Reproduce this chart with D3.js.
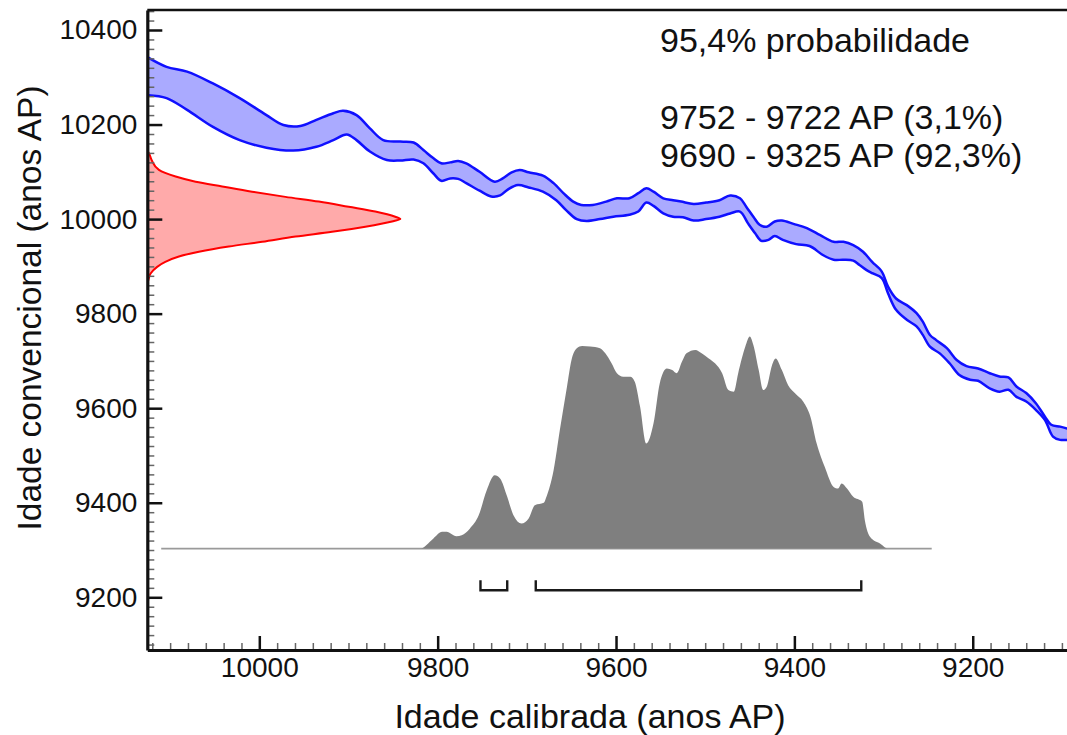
<!DOCTYPE html>
<html>
<head>
<meta charset="utf-8">
<script src="https://cdn.jsdelivr.net/npm/d3@7"></script>
<style>
  html, body { margin: 0; padding: 0; background: #fff; }
  svg { display: block; font-family: 'Liberation Sans', Arial, sans-serif; }
</style>
</head>
<body>
<svg id="chart" width="1067" height="735"></svg>
<script>
// calibration curve, [cal age BP, radiocarbon age BP]
var calCurveUpper = [
  [10125, 10342], [10104, 10322], [10081, 10312], [10052, 10287], [10022, 10256],
  [9992, 10220], [9973, 10199], [9954, 10197], [9936, 10210], [9917, 10224],
  [9906, 10229], [9891, 10220], [9876, 10192], [9861, 10167], [9842, 10164],
  [9827, 10162], [9816, 10146], [9805, 10129], [9796, 10118], [9786, 10120],
  [9777, 10123], [9768, 10118], [9753, 10100], [9736, 10079], [9727, 10086],
  [9717, 10099], [9708, 10104], [9698, 10099], [9682, 10092], [9670, 10076],
  [9659, 10055], [9648, 10037], [9639, 10030], [9626, 10030], [9611, 10037],
  [9599, 10044], [9585, 10044], [9575, 10055], [9566, 10065], [9558, 10058],
  [9547, 10044], [9536, 10040], [9527, 10037], [9513, 10032], [9499, 10035],
  [9484, 10040], [9472, 10050], [9461, 10044], [9454, 10026], [9446, 10005],
  [9439, 9988], [9431, 9984], [9422, 9995], [9414, 9997], [9401, 9990],
  [9386, 9981], [9371, 9966], [9356, 9952], [9345, 9952], [9334, 9945],
  [9323, 9931], [9315, 9914], [9312, 9908], [9302, 9889], [9295, 9857],
  [9286, 9832], [9274, 9818], [9263, 9801], [9256, 9783], [9248, 9755],
  [9241, 9744], [9229, 9727], [9218, 9702], [9207, 9689], [9194, 9684],
  [9181, 9674], [9170, 9667], [9160, 9665], [9151, 9646], [9140, 9632],
  [9129, 9610], [9119, 9582], [9112, 9565], [9102, 9561], [9094, 9557]
]
var calCurveLower = [
  [10125, 10262], [10104, 10256], [10081, 10231], [10052, 10195], [10022, 10167],
  [9992, 10151], [9962, 10145], [9936, 10153], [9917, 10167], [9902, 10179],
  [9891, 10167], [9876, 10143], [9857, 10125], [9842, 10124], [9827, 10126],
  [9816, 10118], [9805, 10097], [9796, 10081], [9786, 10086], [9777, 10085],
  [9768, 10076], [9753, 10060], [9740, 10048], [9730, 10050], [9721, 10063],
  [9710, 10072], [9698, 10067], [9682, 10058], [9667, 10040], [9656, 10019],
  [9644, 10000], [9633, 9996], [9618, 10000], [9603, 10005], [9585, 10009],
  [9575, 10016], [9566, 10035], [9558, 10028], [9547, 10012], [9536, 10005],
  [9525, 10004], [9513, 9997], [9499, 10000], [9484, 10005], [9472, 10012],
  [9461, 10016], [9452, 9991], [9444, 9970], [9437, 9954], [9429, 9956],
  [9422, 9964], [9413, 9956], [9398, 9947], [9383, 9943], [9368, 9924],
  [9356, 9914], [9345, 9914], [9334, 9912], [9327, 9903], [9319, 9892],
  [9312, 9885], [9302, 9875], [9295, 9843], [9286, 9808], [9274, 9787],
  [9263, 9773], [9256, 9755], [9248, 9730], [9237, 9716], [9226, 9695],
  [9215, 9670], [9203, 9660], [9194, 9658], [9181, 9642], [9170, 9635],
  [9160, 9639], [9151, 9624], [9140, 9614], [9129, 9596], [9119, 9575],
  [9110, 9540], [9102, 9533], [9094, 9533]
]

// radiocarbon date (conventional age) distribution, relative
var convAges = [10145, 10139, 10125, 10104, 10090, 10079, 10069, 10058, 10047, 10037,
  10026, 10016, 10005, 10000, 9995, 9984, 9973, 9963, 9952, 9942, 9931, 9921, 9910,
  9899, 9885, 9871, 9865]
var convProb = [0, 0.007, 0.017, 0.046, 0.112, 0.191, 0.296, 0.414, 0.546, 0.678,
  0.796, 0.901, 0.98, 1, 0.967, 0.862, 0.73, 0.586, 0.454, 0.322, 0.204, 0.125, 0.073,
  0.039, 0.013, 0.004, 0]

// calibrated distribution, relative
var calAges = [10110, 9842, 9820, 9805, 9795, 9790, 9779, 9773, 9764, 9754, 9745, 9736,
  9730, 9722, 9715, 9706, 9698, 9691, 9681, 9678, 9670, 9663, 9655, 9650, 9644, 9638,
  9629, 9618, 9612, 9605, 9599, 9592, 9584, 9579, 9573, 9566, 9558, 9551, 9543, 9537,
  9532, 9526, 9521, 9511, 9504, 9496, 9489, 9481, 9474, 9468, 9463, 9455, 9450, 9446,
  9440, 9435, 9431, 9425, 9421, 9414, 9407, 9399, 9390, 9382, 9375, 9366, 9356, 9351,
  9347, 9341, 9334, 9324, 9321, 9315, 9304, 9295, 9246]
var calProb = [0, 0, 0, 0.047, 0.079, 0.079, 0.058, 0.063, 0.094, 0.157, 0.275, 0.346,
  0.331, 0.244, 0.157, 0.118, 0.142, 0.205, 0.216, 0.244, 0.37, 0.559, 0.764, 0.889,
  0.945, 0.956, 0.953, 0.945, 0.921, 0.874, 0.827, 0.811, 0.811, 0.787, 0.669, 0.496,
  0.59, 0.779, 0.85, 0.842, 0.827, 0.882, 0.921, 0.937, 0.921, 0.897, 0.874, 0.827,
  0.748, 0.74, 0.827, 0.953, 1, 0.96, 0.842, 0.748, 0.764, 0.866, 0.897, 0.842, 0.771,
  0.732, 0.693, 0.622, 0.496, 0.386, 0.291, 0.283, 0.307, 0.283, 0.244, 0.221, 0.134,
  0.055, 0.024, 0, 0]

// 95.4% ranges
var ranges = [[9752, 9722], [9690, 9325]]
var noteLines = ['95,4% probabilidade', '', '9752 - 9722 AP (3,1%)', '9690 - 9325 AP (92,3%)']

var xMajorTicks = [10000, 9800, 9600, 9400, 9200]
var yMajorTicks = [9200, 9400, 9600, 9800, 10000, 10200, 10400]

var xTitle = 'Idade calibrada (anos AP)'
var yTitle = 'Idade convencional (anos AP)'

;(function () {
  var plot = { left: 147.3, right: 1067, top: 10, bottom: 650 }
  var svg = d3.select('#chart')

  var x = d3.scaleLinear().domain([10125.6, 9094.3]).range([plot.left, plot.right])
  var y = d3.scaleLinear().domain([9088.5, 10442.3]).range([plot.bottom, plot.top])

  // width of the radiocarbon date curve and height of the calibrated one
  var convX = d3.scaleLinear().domain([0, 1]).range([plot.left, plot.left + 253])
  var calBase = y(9303)
  var calY = d3.scaleLinear().domain([0, 1]).range([calBase, calBase - 212])

  svg.append('defs')
    .append('clipPath')
    .attr('id', 'plot-clip')
    .append('rect')
    .attr('x', plot.left)
    .attr('y', plot.top)
    .attr('width', plot.right - plot.left)
    .attr('height', plot.bottom - plot.top)

  var g = svg.append('g').attr('clip-path', 'url(#plot-clip)')

  // calibrated distribution
  var calArea = d3.area()
    .x(function (d, i) { return x(calAges[i]) })
    .y0(calBase)
    .y1(function (d) { return calY(d) })
    .curve(d3.curveMonotoneX)

  g.append('line')
    .attr('x1', x(calAges[0]))
    .attr('x2', x(calAges[calAges.length - 1]))
    .attr('y1', calBase)
    .attr('y2', calBase)
    .attr('stroke', '#9a9a9a')
    .attr('stroke-width', 1.6)

  g.append('path')
    .attr('d', calArea(calProb))
    .attr('fill', '#7f7f7f')

  // calibration curve band
  var bandLine = d3.line()
    .x(function (d) { return x(d[0]) })
    .y(function (d) { return y(d[1]) })
    .curve(d3.curveCatmullRom.alpha(0.5))

  var upperPath = bandLine(calCurveUpper)
  var lowerRevPath = bandLine(calCurveLower.slice().reverse())

  g.append('path')
    .attr('d', upperPath + 'L' + lowerRevPath.slice(1) + 'Z')
    .attr('fill', '#aaaaff')

  ;[calCurveUpper, calCurveLower].forEach(function (edge) {
    g.append('path')
      .attr('d', bandLine(edge))
      .attr('fill', 'none')
      .attr('stroke', '#1010ff')
      .attr('stroke-width', 2.5)
  })

  // radiocarbon date distribution
  var convArea = d3.area()
    .y(function (d, i) { return y(convAges[i]) })
    .x0(convX(0))
    .x1(function (d) { return convX(d) })
    .curve(d3.curveMonotoneY)

  var convLine = d3.line()
    .y(function (d, i) { return y(convAges[i]) })
    .x(function (d) { return convX(d) })
    .curve(d3.curveMonotoneY)

  g.append('path')
    .attr('d', convArea(convProb))
    .attr('fill', '#ffaaaa')

  g.append('path')
    .attr('d', convLine(convProb))
    .attr('fill', 'none')
    .attr('stroke', '#ff0000')
    .attr('stroke-width', 2)

  // range brackets
  var bracketY = y(9215)
  ranges.forEach(function (r) {
    svg.append('path')
      .attr('d', 'M' + x(r[0]) + ',' + (bracketY - 10) +
        'V' + bracketY + 'H' + x(r[1]) + 'V' + (bracketY - 10))
      .attr('fill', 'none')
      .attr('stroke', '#1a1a1a')
      .attr('stroke-width', 2.4)
  })

  // axes
  var yMinor = d3.range(9100, 10441, 20).filter(function (v) { return v % 200 != 0 })
  var xMinor = d3.range(9100, 10121, 20).filter(function (v) { return v % 200 != 0 })

  var yMinorAxis = svg.append('g')
    .attr('transform', 'translate(' + plot.left + ',0)')
    .call(d3.axisLeft(y).tickValues(yMinor).tickSizeInner(-7).tickSizeOuter(0).tickFormat(''))
  var xMinorAxis = svg.append('g')
    .attr('transform', 'translate(0,' + plot.bottom + ')')
    .call(d3.axisBottom(x).tickValues(xMinor).tickSizeInner(-7).tickSizeOuter(0).tickFormat(''))

  ;[yMinorAxis, xMinorAxis].forEach(function (a) {
    a.select('.domain').remove()
    a.selectAll('line').attr('stroke', '#666').attr('stroke-width', 1.5)
  })

  var yAxis = svg.append('g')
    .attr('transform', 'translate(' + plot.left + ',0)')
    .call(d3.axisLeft(y).tickValues(yMajorTicks).tickSizeInner(-15).tickSizeOuter(0)
      .tickPadding(10).tickFormat(d3.format('d')))
  var xAxis = svg.append('g')
    .attr('transform', 'translate(0,' + plot.bottom + ')')
    .call(d3.axisBottom(x).tickValues(xMajorTicks).tickSizeInner(-14).tickSizeOuter(0)
      .tickPadding(7).tickFormat(d3.format('d')))

  ;[yAxis, xAxis].forEach(function (a) {
    a.select('.domain').attr('stroke', '#111').attr('stroke-width', 3.2)
    a.selectAll('line').attr('stroke', '#111').attr('stroke-width', 2.5)
    a.selectAll('text')
      .attr('fill', '#111')
      .style('font-size', '28px')
      .style('font-family', "'Liberation Sans', Arial, sans-serif")
  })

  // top frame line
  svg.append('line')
    .attr('x1', plot.left)
    .attr('x2', plot.right)
    .attr('y1', plot.top)
    .attr('y2', plot.top)
    .attr('stroke', '#111')
    .attr('stroke-width', 2.4)

  // titles
  svg.append('text')
    .attr('x', 590)
    .attr('y', 728)
    .attr('text-anchor', 'middle')
    .attr('fill', '#111')
    .style('font-size', '34px')
    .text(xTitle)

  svg.append('text')
    .attr('transform', 'translate(41,308) rotate(-90)')
    .attr('text-anchor', 'middle')
    .attr('fill', '#111')
    .style('font-size', '33.5px')
    .text(yTitle)

  // probability note
  var note = svg.append('text')
    .attr('x', 660)
    .attr('y', 52)
    .attr('fill', '#111')
    .style('font-size', '34px')

  noteLines.forEach(function (t, i) {
    note.append('tspan')
      .attr('x', 660)
      .attr('y', 52 + i * 38.4)
      .text(t)
  })
})()
</script>
</body>
</html>
